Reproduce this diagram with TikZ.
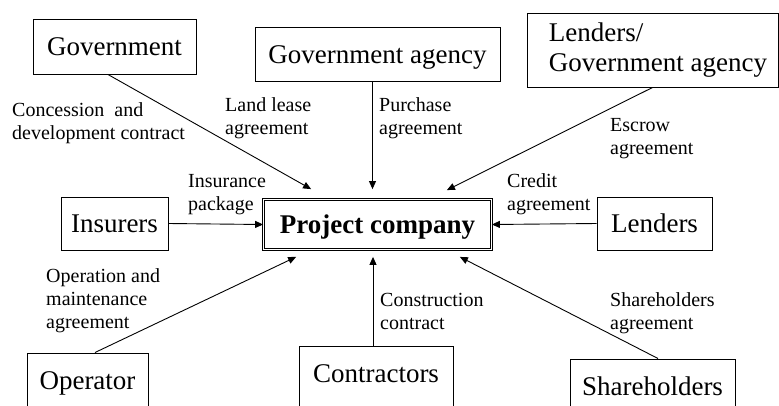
\documentclass[tikz,border=0pt]{standalone}
\usepackage{fontspec}
\setmainfont{Liberation Serif}
\usetikzlibrary{arrows.meta}
\begin{document}
\begin{tikzpicture}[x=1pt,y=-1pt,
  boxb/.style={draw,line width=1pt,inner sep=0pt,font=\fontsize{27}{30}\selectfont},
  box/.style={boxb,text height=18pt,text depth=0pt},
  lowbox/.style={box,minimum height=90pt,text depth=36pt},
  lbl/.style={anchor=base west,inner sep=0pt,align=left,font=\fontsize{20}{23}\selectfont},
  arr/.style={line width=0.9pt,-{Triangle[length=8pt,width=7pt]}}]
\clip (0,0) rectangle (779,405);
\fill[white] (0,0) rectangle (779,405);
% boxes
\node[box,minimum width=163pt,minimum height=55pt] (gov) at (114.5,46.5) {Government};
\node[box,minimum width=245pt,minimum height=54pt] (ga) at (377.5,54) {Government agency};
\node[boxb,minimum width=251pt,minimum height=74pt,align=left] (lga) at (652.5,50)
  {\hspace*{11pt}Lenders/\\\hspace*{11pt}Government agency};
\node[box,minimum width=107pt,minimum height=53pt] (ins) at (114.5,223.5) {Insurers};
\node[box,draw,line width=0.8pt,double,double distance=1.6pt,minimum width=228pt,minimum height=50pt,
  font=\fontsize{27}{30}\selectfont\bfseries] (pc) at (377.5,224.5) {Project company};
\node[box,minimum width=115pt,minimum height=53pt] (len) at (654.5,223.5) {Lenders};
\node[lowbox,minimum width=121pt] (op) at (87.5,398) {Operator};
\node[lowbox,minimum width=154pt] (con) at (376,391) {Contractors};
\node[lowbox,minimum width=165pt] (sh) at (652.5,404) {Shareholders};
% connectors
\draw[arr] ([xshift=-6.5pt]gov.south) -- ([xshift=48pt,yshift=10pt]pc.north west);
\draw[arr] ([xshift=-5pt]ga.south) -- ([xshift=-5pt,yshift=10pt]pc.north);
\draw[arr] (lga.south) -- ([xshift=-45pt,yshift=9pt]pc.north east);
\draw[arr] (ins.east) -- (pc.west);
\draw[arr] (len.west) -- (pc.east);
\draw[arr] ([xshift=7.5pt]op.north) -- ([xshift=33pt,yshift=-7pt]pc.south west);
\draw[arr] ([xshift=-3pt]con.north) -- ([xshift=-4.5pt,yshift=-7pt]pc.south);
\draw[arr] ([xshift=5.5pt]sh.north) -- ([xshift=-32pt,yshift=-7pt]pc.south east);
% labels (base anchor = last line baseline)
\node[lbl] (l1) at (12,139) {Concession\ \ and\\development contract};
\node[lbl] (l2) at (225,134) {Land lease\\agreement};
\node[lbl] (l3) at (379,134) {Purchase\\agreement};
\node[lbl] (l4) at (610,154) {Escrow\\agreement};
\node[lbl] (l5) at (188,210) {Insurance\\package};
\node[lbl] (l6) at (507,210) {Credit\\agreement};
\node[lbl] (l7) at (46,328) {Operation and\\maintenance\\agreement};
\node[lbl] (l8) at (380,329) {Construction\\contract};
\node[lbl] (l9) at (610,329) {Shareholders\\agreement};
\end{tikzpicture}
\end{document}
